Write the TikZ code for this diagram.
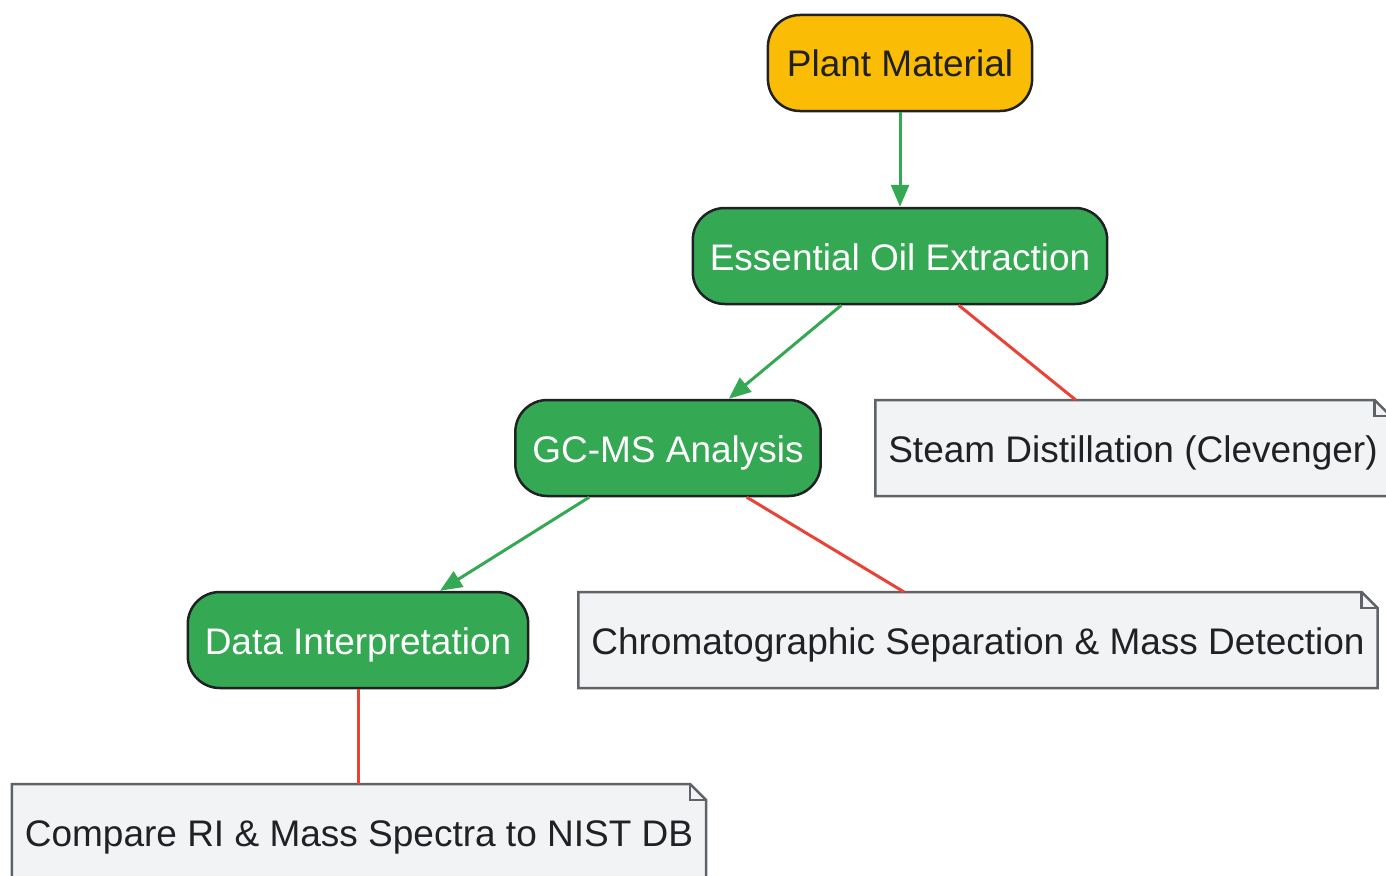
\documentclass[tikz,border=0pt]{standalone}
\usepackage{fontspec}
\setmainfont{Liberation Sans}
\usepackage{tikz}
\usetikzlibrary{arrows.meta}
\definecolor{srcyellow}{HTML}{FBBC05}
\definecolor{procgreen}{HTML}{34A853}
\definecolor{detailred}{HTML}{EA4335}
\definecolor{notefill}{HTML}{F1F3F4}
\definecolor{notegray}{HTML}{5F6368}
\definecolor{textdark}{HTML}{202124}

\begin{document}
\begin{tikzpicture}[x=1pt, y=-1pt, font=\fontsize{37}{44}\selectfont, >={Triangle[length=22pt,width=18pt]},
  every node/.style={text height=34pt, text depth=6pt},
  source/.style={rectangle, rounded corners=32pt, draw=textdark, line width=2.5pt, fill=srcyellow, text=textdark, minimum height=96pt, inner xsep=19pt},
  process/.style={rectangle, rounded corners=32pt, draw=textdark, line width=2.5pt, fill=procgreen, text=white, minimum height=96pt, inner xsep=17pt},
  note/.style={rectangle, text=textdark, minimum height=96pt, inner xsep=13pt, outer sep=0pt,
    append after command={\pgfextra{
      \draw[notegray, fill=notefill, line width=2.5pt] (\tikzlastnode.north west) -- ([xshift=-16pt]\tikzlastnode.north east) -- ([yshift=-16pt]\tikzlastnode.north east) -- (\tikzlastnode.south east) -- (\tikzlastnode.south west) -- cycle;
      \draw[notegray, line width=2.5pt] ([xshift=-16pt]\tikzlastnode.north east) |- ([yshift=-16pt]\tikzlastnode.north east);}}},
  flow/.style={->, procgreen, line width=3pt},
  detail/.style={detailred, line width=3pt}]

\useasboundingbox (0,0) rectangle (1386,875);

\node[source] (plant) at (900, 63) {Plant Material};
\node[process] (extract) at (900, 256) {Essential Oil Extraction};
\node[process] (gcms) at (668, 448) {GC-MS Analysis};
\node[process] (interp) at (358, 640) {Data Interpretation};
\node[note] (steam) at (1133, 448) {Steam Distillation (Clevenger)};
\node[note] (chrom) at (978, 640) {Chromatographic Separation \& Mass Detection};
\node[note] (compare) at (359, 832) {Compare RI \& Mass Spectra to NIST DB};

\draw [flow] (plant) -- (extract);
\draw [flow] (extract.220) -- (gcms.39);
\draw [flow] (gcms.212) -- (interp.31);
\draw [detail] (extract.320) -- (steam.140);
\draw [detail] (gcms.328) -- (chrom.147);
\draw [detail] (interp.south) -- (compare.north -| interp.south);

\end{tikzpicture}
\end{document}
